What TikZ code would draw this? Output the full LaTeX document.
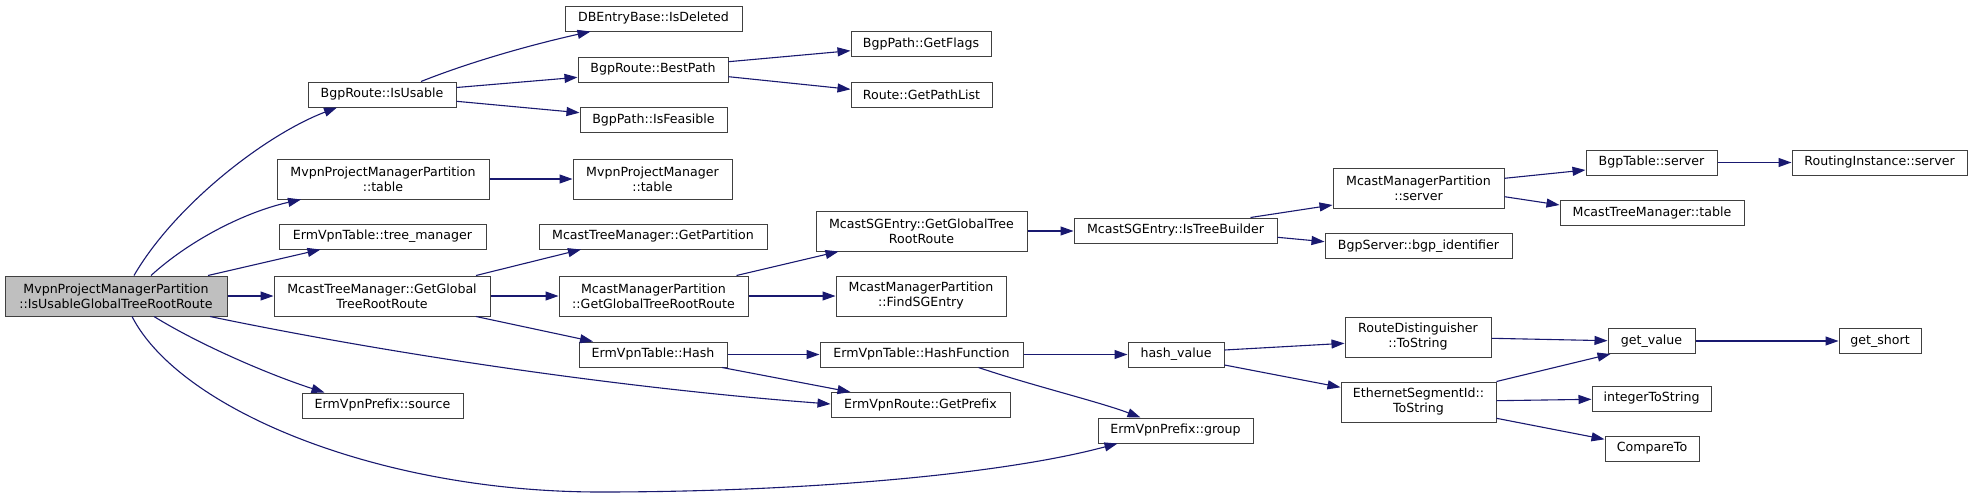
\documentclass[tikz,border=0pt]{standalone}
\usepackage{fontspec}
\newfontfamily\dv{DejaVu Sans}
\usetikzlibrary{arrows.meta}
\definecolor{edgecol}{HTML}{191970}
\definecolor{bordercol}{HTML}{404040}
\definecolor{maincol}{HTML}{BFBFBF}
\begin{document}
\begin{tikzpicture}[x=1pt,y=-1pt,
  nd/.style={draw=bordercol, line width=1pt, fill=white, inner sep=0pt, minimum height=25pt, align=center, text=black, font={\dv\fontsize{12.6}{15}\selectfont}},
  nd2/.style={nd, minimum height=40pt},
  ed/.style={draw=edgecol, line width=1.1pt, -{Triangle[length=13pt,width=9pt,fill=edgecol]}},
]
\useasboundingbox[fill=white] (0,0) rectangle (1973,498);

% nodes
\node[nd2, fill=maincol, minimum width=222pt] (main) at (116,296) {MvpnProjectManagerPartition\\::IsUsableGlobalTreeRootRoute};
\node[nd, minimum width=148pt] (isusable) at (382,94.5) {BgpRoute::IsUsable};
\node[nd, minimum width=177pt] (isdeleted) at (653.5,18.5) {DBEntryBase::IsDeleted};
\node[nd, minimum width=150pt] (bestpath) at (653,69.5) {BgpRoute::BestPath};
\node[nd, minimum width=147pt] (isfeasible) at (653.5,120) {BgpPath::IsFeasible};
\node[nd, minimum width=140pt] (getflags) at (921,44) {BgpPath::GetFlags};
\node[nd, minimum width=141pt] (getpathlist) at (921.5,94.5) {Route::GetPathList};
\node[nd2, minimum width=212pt] (mpmptable) at (383,179) {MvpnProjectManagerPartition\\::table};
\node[nd2, minimum width=159pt] (mpmtable) at (652.5,179) {MvpnProjectManager\\::table};
\node[nd, minimum width=207pt] (treemgr) at (382.5,236.5) {ErmVpnTable::tree\_manager};
\node[nd, minimum width=228pt] (getpartition) at (653,236.5) {McastTreeManager::GetPartition};
\node[nd2, minimum width=211pt] (sgggtrr) at (921.5,231) {McastSGEntry::GetGlobalTree\\RootRoute};
\node[nd, minimum width=203pt] (istreebuilder) at (1175.5,230.5) {McastSGEntry::IsTreeBuilder};
\node[nd2, minimum width=171pt] (mmpserver) at (1418.5,188) {McastManagerPartition\\::server};
\node[nd, minimum width=131pt] (bgptableserver) at (1651.5,162.5) {BgpTable::server};
\node[nd, minimum width=175pt] (riserver) at (1879.5,162.5) {RoutingInstance::server};
\node[nd, minimum width=184pt] (mtmtable) at (1652,213) {McastTreeManager::table};
\node[nd, minimum width=187pt] (bgpid) at (1418.5,246) {BgpServer::bgp\_identifier};
\node[nd2, minimum width=216pt] (mtmggtrr) at (382,296) {McastTreeManager::GetGlobal\\TreeRootRoute};
\node[nd2, minimum width=189pt] (mmpggtrr) at (653.5,296) {McastManagerPartition\\::GetGlobalTreeRootRoute};
\node[nd2, minimum width=170pt] (findsg) at (921,296) {McastManagerPartition\\::FindSGEntry};
\node[nd, minimum width=148pt] (hash) at (653,354.5) {ErmVpnTable::Hash};
\node[nd, minimum width=203pt] (hashfn) at (921.5,354.5) {ErmVpnTable::HashFunction};
\node[nd, minimum width=96pt] (hashvalue) at (1176,354.5) {hash\_value};
\node[nd, minimum width=179pt] (getprefix) at (920.5,405) {ErmVpnRoute::GetPrefix};
\node[nd, minimum width=155pt] (group) at (1175.5,430.5) {ErmVpnPrefix::group};
\node[nd, minimum width=161pt] (source) at (382.5,405.5) {ErmVpnPrefix::source};
\node[nd2, minimum width=146pt] (rdtostring) at (1418,337) {RouteDistinguisher\\::ToString};
\node[nd2, minimum width=155pt] (esitostring) at (1418.5,402) {EthernetSegmentId::\\ToString};
\node[nd, minimum width=87pt] (getvalue) at (1651.5,341) {get\_value};
\node[nd, minimum width=82pt] (getshort) at (1880,341) {get\_short};
\node[nd, minimum width=119pt] (inttostr) at (1651.5,398.5) {integerToString};
\node[nd, minimum width=94pt] (compareto) at (1652,448.5) {CompareTo};

% edges from main
\draw[ed] ([xshift=18pt]main.north) .. controls (175,205) and (265,135) .. ([xshift=-45pt]isusable.south);
\draw[ed] ([xshift=35pt]main.north) .. controls (190,240) and (245,212) .. ([xshift=-82pt]mpmptable.south);
\draw[ed] ([xshift=92pt]main.north) -- ([xshift=-62pt]treemgr.south);
\draw[ed] (main.east) -- (mtmggtrr.west);
\draw[ed] ([xshift=94pt]main.south) .. controls (400,356) and (631,389) .. ([yshift=1pt]getprefix.west);
\draw[ed] ([xshift=38pt]main.south) .. controls (200,345) and (270,375) .. ([xshift=-58pt]source.north);
\draw[ed] ([xshift=16pt]main.south) .. controls (180,410) and (380,492) .. (600,492) .. controls (800,492) and (1000,475) .. ([xshift=-58pt]group.south);

% IsUsable
\draw[ed] ([xshift=39pt]isusable.north) .. controls (470,62) and (530,45) .. ([xshift=-63pt]isdeleted.south);
\draw[ed] ([yshift=7pt]isusable.east) -- ([yshift=-7.8pt]bestpath.west);
\draw[ed] ([yshift=-6.8pt]isusable.east) -- ([yshift=7.3pt]isfeasible.west);
\draw[ed] ([yshift=7.8pt]bestpath.east) -- ([yshift=-6.7pt]getflags.west);
\draw[ed] ([yshift=-7.2pt]bestpath.east) -- ([yshift=5.2pt]getpathlist.west);

\draw[ed] (mpmptable.east) -- (mpmtable.west);

% McastTreeManager::GetGlobalTreeRootRoute
\draw[ed] ([xshift=94pt]mtmggtrr.north) -- ([xshift=-72pt]getpartition.south);
\draw[ed] (mtmggtrr.east) -- (mmpggtrr.west);
\draw[ed] ([xshift=94pt]mtmggtrr.south) -- ([xshift=-60pt]hash.north);
\draw[ed] ([xshift=83pt]mmpggtrr.north) -- ([xshift=-83pt]sgggtrr.south);
\draw[ed] (mmpggtrr.east) -- (findsg.west);
\draw[ed] (sgggtrr.east) -- (sgggtrr.east -| istreebuilder.west);
\draw[ed] ([xshift=75pt]istreebuilder.north) -- ([yshift=-17pt]mmpserver.west);
\draw[ed] ([yshift=-6.8pt]istreebuilder.east) -- ([yshift=4.3pt]bgpid.west);
\draw[ed] ([yshift=9.7pt]mmpserver.east) -- ([yshift=-7.5pt]bgptableserver.west);
\draw[ed] ([yshift=-8.7pt]mmpserver.east) -- ([yshift=8pt]mtmtable.west);
\draw[ed] (bgptableserver.east) -- (riserver.west);

% Hash chain
\draw[ed] (hash.east) -- (hashfn.west);
\draw[ed] ([xshift=69pt]hash.south) -- ([xshift=-70pt]getprefix.north);
\draw[ed] (hashfn.east) -- (hashvalue.west);
\draw[ed] ([xshift=57pt]hashfn.south) .. controls (1030,385) and (1100,402) .. ([xshift=-35pt]group.north);
\draw[ed] ([yshift=4.5pt]hashvalue.east) -- ([yshift=-6.3pt]rdtostring.west);
\draw[ed] ([yshift=-10.5pt]hashvalue.east) -- ([yshift=14.7pt]esitostring.west);
\draw[ed] ([yshift=-1.3pt]rdtostring.east) -- ([yshift=0.3pt]getvalue.west);
\draw[ed] (esitostring.north east) -- ([xshift=3pt]getvalue.south west);
\draw[ed] ([yshift=1.3pt]esitostring.east) -- ([yshift=-0.8pt]inttostr.west);
\draw[ed] ([yshift=-16.3pt]esitostring.east) -- ([yshift=9.2pt]compareto.west);
\draw[ed] (getvalue.east) -- (getshort.west);
\end{tikzpicture}
\end{document}
